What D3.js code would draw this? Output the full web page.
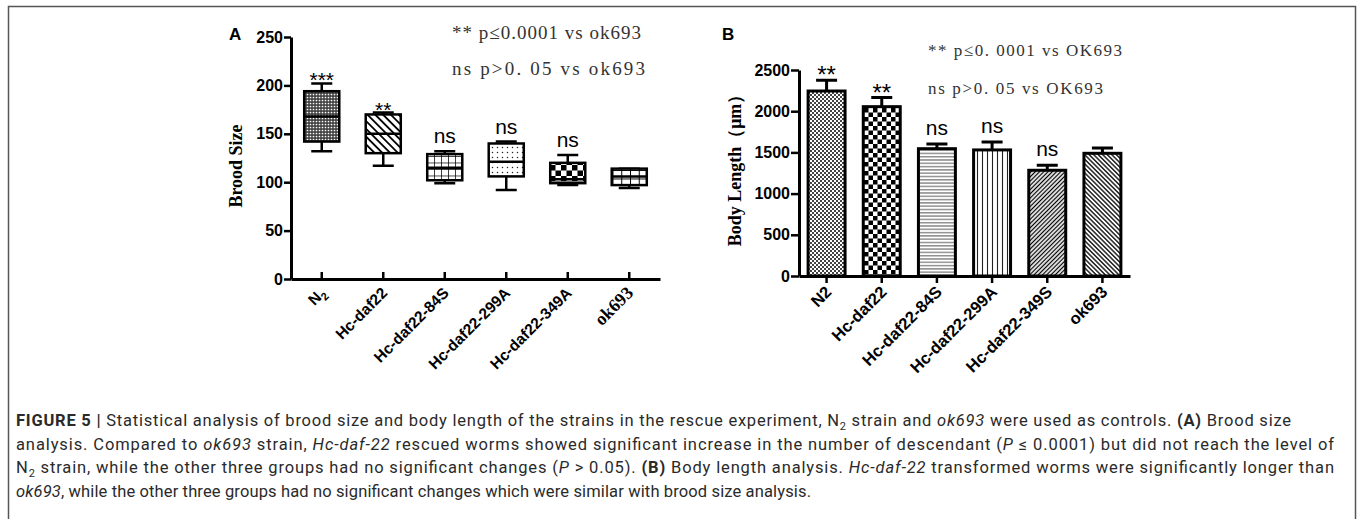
<!DOCTYPE html>
<html>
<head>
<meta charset="utf-8">
<script src="https://cdn.jsdelivr.net/npm/d3@7"></script>
<style>
  body { margin: 0; background: #fff; }
  .tick text { font-family: Arial, "Liberation Sans", sans-serif; font-weight: bold; }
</style>
</head>
<body>
<svg id="fig" width="1358" height="519"></svg>
<script>
// panel A - brood size box plots
var strainsA = ["N2", "Hc-daf22", "Hc-daf22-84S", "Hc-daf22-299A", "Hc-daf22-349A", "ok693"];
var broodMin = [132, 117, 99, 92, 97, 94];
var broodQ1 = [142, 130, 102, 106, 99, 97];
var broodMed = [168, 150, 115, 121, 103, 106];
var broodQ3 = [194, 170, 129, 140, 120, 114];
var broodMax = [202, 172, 132, 142, 128, 114];
var sigA = ["***", "**", "ns", "ns", "ns", ""];
var ticksA = [0, 50, 100, 150, 200, 250];

// panel B - body length bars (mean + sd)
var strainsB = ["N2", "Hc-daf22", "Hc-daf22-84S", "Hc-daf22-299A", "Hc-daf22-349S", "ok693"];
var lengthMean = [2245, 2055, 1545, 1530, 1283, 1489];
var lengthSD = [132, 110, 57, 96, 60, 64];
var sigB = ["**", "**", "ns", "ns", "ns", ""];
var ticksB = [0, 500, 1000, 1500, 2000, 2500];

var svg = d3.select("#fig");
var defs = svg.append("defs");

// frame round the figure
svg.append("rect")
    .attr("x", 8.5).attr("y", 6.5)
    .attr("width", 1347).attr("height", 530)
    .attr("fill", "none").attr("stroke", "#555").attr("stroke-width", 1.5);

// ---------- fill patterns ----------
function pat(id, w, h, rot) {
    var p = defs.append("pattern").attr("id", id)
        .attr("patternUnits", "userSpaceOnUse")
        .attr("width", w).attr("height", h);
    if (rot) p.attr("patternTransform", "rotate(" + rot + ")");
    p.append("rect").attr("width", w).attr("height", h).attr("fill", "#fff");
    return p;
}
function checker(id, s, col) {
    var p = pat(id, 2 * s, 2 * s);
    p.append("rect").attr("width", s).attr("height", s).attr("fill", col);
    p.append("rect").attr("x", s).attr("y", s).attr("width", s).attr("height", s).attr("fill", col);
}
function lines(id, gap, sw, rot, col) {
    var p = pat(id, gap, gap, rot);
    p.append("line").attr("x1", gap / 2).attr("x2", gap / 2).attr("y1", 0).attr("y2", gap)
        .attr("stroke", col || "#000").attr("stroke-width", sw);
}
function grid(id, w, h, sw) {
    var p = pat(id, w, h);
    p.append("path").attr("d", "M0,0H" + w + "M0,0V" + h)
        .attr("stroke", "#000").attr("stroke-width", sw).attr("fill", "none");
}

// A patterns
var pA0 = pat("a0", 3, 3);
pA0.append("rect").attr("width", 3).attr("height", 3).attr("fill", "#444");
pA0.append("circle").attr("cx", 1.5).attr("cy", 1.5).attr("r", 0.85).attr("fill", "#fff");
lines("a1", 5.5, 1.8, -45);
grid("a2", 7, 6.5, 1.5);
var pA3 = pat("a3", 5, 5);
pA3.append("circle").attr("cx", 2.5).attr("cy", 2.5).attr("r", 0.75).attr("fill", "#222");
checker("a4", 5.5, "#000");
grid("a5", 8.75, 8.5, 2);
// B patterns
checker("b0", 2, "#444");
checker("b1", 4.5, "#000");
var pB2 = pat("b2", 6, 3.3);
pB2.append("line").attr("x1", 0).attr("x2", 6).attr("y1", 1.6).attr("y2", 1.6)
    .attr("stroke", "#555").attr("stroke-width", 1);
lines("b3", 5, 1.1, 0, "#222");
lines("b4", 3, 1.3, 45);
lines("b5", 3.2, 1.3, -45);

var fillA = ["url(#a0)", "url(#a1)", "url(#a2)", "url(#a3)", "url(#a4)", "url(#a5)"];
var fillB = ["url(#b0)", "url(#b1)", "url(#b2)", "url(#b3)", "url(#b4)", "url(#b5)"];

function styleAxis(g, size) {
    g.select(".domain").attr("stroke", "#000").attr("stroke-width", 3);
    g.selectAll(".tick line").attr("stroke", "#000").attr("stroke-width", 2.5);
    g.selectAll(".tick text").attr("font-size", size).attr("fill", "#000");
}

// ---------- panel A ----------
var xA = d3.scaleBand().domain(strainsA).range([291, 660]).paddingInner(0.43).paddingOuter(0.215);
var yA = d3.scaleLinear().domain([0, 250]).range([279, 37]);

var gA = svg.append("g");
gA.append("g").attr("transform", "translate(291,0)")
    .call(d3.axisLeft(yA).tickValues(ticksA).tickSize(7).tickPadding(1).tickSizeOuter(0).tickFormat(d3.format("d")))
    .call(styleAxis, 16);
gA.append("g").attr("transform", "translate(0,279)")
    .call(d3.axisBottom(xA).tickSize(-7).tickSizeOuter(0).tickFormat(""))
    .call(styleAxis, 14);

var boxes = gA.selectAll(".box").data(strainsA).enter().append("g").attr("class", "box");
var cap = 21;
boxes.append("path")
    .attr("d", function (d, i) {
        var cx = xA(d) + xA.bandwidth() / 2;
        return "M" + cx + "," + yA(broodMax[i]) + "V" + yA(broodQ3[i]) +
            "M" + cx + "," + yA(broodQ1[i]) + "V" + yA(broodMin[i]) +
            "M" + (cx - cap / 2) + "," + yA(broodMax[i]) + "h" + cap +
            "M" + (cx - cap / 2) + "," + yA(broodMin[i]) + "h" + cap;
    })
    .attr("stroke", "#000").attr("stroke-width", 2.5).attr("fill", "none");
boxes.append("rect")
    .attr("x", function (d) { return xA(d); })
    .attr("y", function (d, i) { return yA(broodQ3[i]); })
    .attr("width", xA.bandwidth())
    .attr("height", function (d, i) { return yA(broodQ1[i]) - yA(broodQ3[i]); })
    .attr("fill", function (d, i) { return fillA[i]; })
    .attr("stroke", "#000").attr("stroke-width", 2.5);
boxes.append("line")
    .attr("x1", function (d) { return xA(d); })
    .attr("x2", function (d) { return xA(d) + xA.bandwidth(); })
    .attr("y1", function (d, i) { return yA(broodMed[i]); })
    .attr("y2", function (d, i) { return yA(broodMed[i]); })
    .attr("stroke", "#000").attr("stroke-width", 2.5);
boxes.append("text")
    .attr("x", function (d) { return xA(d) + xA.bandwidth() / 2; })
    .attr("y", function (d, i) { return yA(broodMax[i]) + (sigA[i][0] == "*" ? 4 : -8); })
    .attr("text-anchor", "middle")
    .attr("font-family", "Arial, sans-serif")
    .attr("font-size", function (d, i) { return sigA[i][0] == "*" ? 21 : 21; })
    .text(function (d, i) { return sigA[i]; });

// x labels A
var labA = gA.selectAll(".labA").data(strainsA).enter().append("text")
    .attr("transform", function (d) {
        return "translate(" + (xA(d) + xA.bandwidth() / 2 + 5) + "," + 294 + ") rotate(-45)";
    })
    .attr("text-anchor", "end")
    .attr("font-weight", "bold")
    .attr("font-size", function (d) { return d == "ok693" ? 18 : 15.5; })
    .attr("font-family", function (d) { return d == "ok693" ? "'Liberation Serif', serif" : "Arial, sans-serif"; });
labA.each(function (d) {
    var t = d3.select(this);
    if (d == "N2") {
        t.append("tspan").text("N");
        t.append("tspan").attr("font-size", 11).attr("dy", 4).text("2");
    } else {
        t.text(d);
    }
});

gA.append("text").attr("x", 229).attr("y", 40)
    .attr("font-family", "Arial, sans-serif").attr("font-weight", "bold").attr("font-size", 17)
    .text("A");
gA.append("text").attr("transform", "translate(242,166) rotate(-90)")
    .attr("text-anchor", "middle")
    .attr("font-family", "'Liberation Serif', 'Times New Roman', serif").attr("font-weight", "bold").attr("font-size", 18)
    .text("Brood Size");
gA.append("text").attr("x", 452).attr("y", 39)
    .attr("font-family", "'Liberation Serif', serif").attr("font-size", 19).attr("fill", "#333")
    .attr("textLength", 189).attr("lengthAdjust", "spacing")
    .text("** p≤0.0001 vs ok693");
gA.append("text").attr("x", 452).attr("y", 75)
    .attr("font-family", "'Liberation Serif', serif").attr("font-size", 19).attr("fill", "#333")
    .attr("textLength", 193).attr("lengthAdjust", "spacing")
    .text("ns p>0. 05 vs ok693");

// ---------- panel B ----------
var xB = d3.scaleBand().domain(strainsB).range([799, 1130]).paddingInner(0.33).paddingOuter(0.165);
var yB = d3.scaleLinear().domain([0, 2500]).range([276, 70]);

var gB = svg.append("g");
gB.append("g").attr("transform", "translate(799,0)")
    .call(d3.axisLeft(yB).tickValues(ticksB).tickSize(8).tickPadding(1).tickSizeOuter(0).tickFormat(d3.format("d")))
    .call(styleAxis, 16);
gB.append("g").attr("transform", "translate(0,276)")
    .call(d3.axisBottom(xB).tickSize(7).tickSizeOuter(0).tickFormat(""))
    .call(styleAxis, 14);

var bars = gB.selectAll(".bar").data(strainsB).enter().append("g").attr("class", "bar");
bars.append("path")
    .attr("d", function (d, i) {
        var cx = xB(d) + xB.bandwidth() / 2;
        return "M" + cx + "," + yB(lengthMean[i]) + "V" + yB(lengthMean[i] + lengthSD[i]) +
            "M" + (cx - cap / 2) + "," + yB(lengthMean[i] + lengthSD[i]) + "h" + cap;
    })
    .attr("stroke", "#000").attr("stroke-width", 3).attr("fill", "none");
bars.append("rect")
    .attr("x", function (d) { return xB(d); })
    .attr("y", function (d, i) { return yB(lengthMean[i]); })
    .attr("width", xB.bandwidth())
    .attr("height", function (d, i) { return yB(0) - yB(lengthMean[i]); })
    .attr("fill", function (d, i) { return fillB[i]; })
    .attr("stroke", "#000").attr("stroke-width", 3);
bars.append("text")
    .attr("x", function (d) { return xB(d) + xB.bandwidth() / 2; })
    .attr("y", function (d, i) { return yB(lengthMean[i] + lengthSD[i]) + (sigB[i][0] == "*" ? 3 : -9); })
    .attr("text-anchor", "middle")
    .attr("font-family", "Arial, sans-serif")
    .attr("font-size", function (d, i) { return sigB[i][0] == "*" ? 24 : 21; })
    .text(function (d, i) { return sigB[i]; });

gB.selectAll(".labB").data(strainsB).enter().append("text")
    .attr("transform", function (d) {
        return "translate(" + (xB(d) + xB.bandwidth() / 2 + 6) + "," + 293 + ") rotate(-45)";
    })
    .attr("text-anchor", "end")
    .attr("font-family", "Arial, sans-serif").attr("font-weight", "bold").attr("font-size", 16.5)
    .text(function (d) { return d; });

gB.append("text").attr("x", 722).attr("y", 40)
    .attr("font-family", "Arial, sans-serif").attr("font-weight", "bold").attr("font-size", 17)
    .text("B");
gB.append("text").attr("transform", "translate(741,166) rotate(-90)")
    .attr("text-anchor", "middle")
    .attr("font-family", "'Liberation Serif', 'Times New Roman', serif").attr("font-weight", "bold").attr("font-size", 18)
    .text("Body Length（μm）");
gB.append("text").attr("x", 928).attr("y", 56)
    .attr("font-family", "'Liberation Serif', serif").attr("font-size", 17).attr("fill", "#333")
    .attr("textLength", 194).attr("lengthAdjust", "spacing")
    .text("** p≤0. 0001 vs OK693");
gB.append("text").attr("x", 928).attr("y", 94)
    .attr("font-family", "'Liberation Serif', serif").attr("font-size", 17).attr("fill", "#333")
    .attr("textLength", 175).attr("lengthAdjust", "spacing")
    .text("ns p>0. 05 vs OK693");

// ---------- caption ----------
var caption = [
    { w: 1275, parts: [["b", "FIGURE 5 | "], ["n", "Statistical analysis of brood size and body length of the strains in the rescue experiment, N"], ["s", "2"], ["n", " strain and "], ["i", "ok693"], ["n", " were used as controls. "], ["b", "(A)"], ["n", " Brood size"]] },
    { w: 1318, parts: [["n", "analysis. Compared to "], ["i", "ok693"], ["n", " strain, "], ["i", "Hc-daf-22"], ["n", " rescued worms showed significant increase in the number of descendant ("], ["i", "P"], ["n", " ≤ 0.0001) but did not reach the level of"]] },
    { w: 1318, parts: [["n", "N"], ["s", "2"], ["n", " strain, while the other three groups had no significant changes ("], ["i", "P"], ["n", " > 0.05). "], ["b", "(B)"], ["n", " Body length analysis. "], ["i", "Hc-daf-22"], ["n", " transformed worms were significantly longer than"]] },
    { w: 795, parts: [["i", "ok693"], ["n", ", while the other three groups had no significant changes which were similar with brood size analysis."]] }
];
var capG = svg.append("g").attr("font-family", "Roboto, Arial, sans-serif").attr("font-size", 16.5).attr("fill", "#2a2a2a");
caption.forEach(function (line, li) {
    var t = capG.append("text").attr("x", 16).attr("y", 426 + li * 23.5)
        .attr("textLength", line.w).attr("lengthAdjust", "spacing");
    var sub = false;
    line.parts.forEach(function (p) {
        var ts = t.append("tspan").text(p[1]);
        if (p[0] == "b") ts.attr("font-weight", "bold");
        if (p[0] == "i") ts.attr("font-style", "italic");
        if (p[0] == "s") { ts.attr("font-size", 11).attr("dy", 4); sub = true; }
        else if (sub) { ts.attr("dy", -4); sub = false; }
    });
});
</script>
</body>
</html>
